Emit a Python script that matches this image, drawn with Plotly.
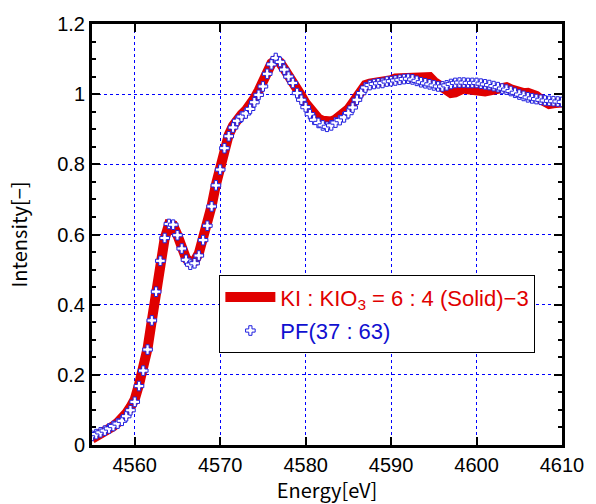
import plotly.graph_objects as go

energy = [4555.0, 4555.5, 4556.0, 4556.5, 4557.0, 4557.5, 4558.0, 4558.5, 4559.0, 4559.5,
          4560.0, 4560.5, 4561.0, 4561.5, 4562.0, 4562.5, 4563.0, 4563.5, 4564.0, 4564.5,
          4565.0, 4565.5, 4566.0, 4566.5, 4567.0, 4567.5, 4568.0, 4568.5, 4569.0, 4569.5,
          4570.0, 4570.5, 4571.0, 4571.5, 4572.0, 4572.5, 4573.0, 4573.5, 4574.0, 4574.5,
          4575.0, 4575.5, 4576.0, 4576.5, 4577.0, 4577.5, 4578.0, 4578.5, 4579.0, 4579.5,
          4580.0, 4580.5, 4581.0, 4581.5, 4582.0, 4582.5, 4583.0, 4583.5, 4584.0, 4584.5,
          4585.0, 4585.5, 4586.0, 4586.5, 4587.0, 4587.5, 4588.0, 4588.5, 4589.0, 4589.5,
          4590.0, 4590.5, 4591.0, 4591.5, 4592.0, 4592.5, 4593.0, 4593.5, 4594.0, 4594.5,
          4595.0, 4595.5, 4596.0, 4596.5, 4597.0, 4597.5, 4598.0, 4598.5, 4599.0, 4599.5,
          4600.0, 4600.5, 4601.0, 4601.5, 4602.0, 4602.5, 4603.0, 4603.5, 4604.0, 4604.5,
          4605.0, 4605.5, 4606.0, 4606.5, 4607.0, 4607.5, 4608.0, 4608.5, 4609.0, 4609.5,
          4610.0]

solid_ki_kio3 = [0.018, 0.024, 0.030, 0.037, 0.045, 0.054, 0.064, 0.075, 0.090, 0.108,
                 0.130, 0.172, 0.215, 0.275, 0.355, 0.435, 0.522, 0.588, 0.628, 0.626,
                 0.598, 0.562, 0.532, 0.520, 0.524, 0.546, 0.588, 0.630, 0.682, 0.742,
                 0.788, 0.850, 0.884, 0.910, 0.930, 0.942, 0.954, 0.968, 0.988, 1.010,
                 1.034, 1.066, 1.088, 1.097, 1.090, 1.072, 1.055, 1.040, 1.013, 0.995,
                 0.974, 0.955, 0.940, 0.930, 0.924, 0.921, 0.922, 0.928, 0.936, 0.944,
                 0.957, 0.974, 0.996, 1.014, 1.026, 1.030, 1.031, 1.033, 1.035, 1.038,
                 1.040, 1.045, 1.046, 1.047, 1.046, 1.048, 1.050, 1.053, 1.052, 1.049,
                 1.036, 1.026, 1.017, 1.008, 1.003, 1.005, 1.013, 1.016, 1.014, 1.011,
                 1.012, 1.010, 1.008, 1.010, 1.013, 1.018, 1.021, 1.020, 1.014, 1.008,
                 1.004, 1.003, 1.004, 1.002, 0.995, 0.985, 0.976, 0.972, 0.974, 0.975,
                 0.976]

pf_37_63 = [0.026, 0.031, 0.036, 0.041, 0.047, 0.054, 0.061, 0.069, 0.082, 0.099,
            0.123, 0.168, 0.212, 0.272, 0.355, 0.437, 0.525, 0.590, 0.630, 0.628,
            0.598, 0.560, 0.528, 0.514, 0.518, 0.540, 0.584, 0.625, 0.680, 0.740,
            0.785, 0.846, 0.880, 0.905, 0.924, 0.936, 0.945, 0.958, 0.977, 0.998,
            1.022, 1.058, 1.085, 1.103, 1.092, 1.070, 1.050, 1.032, 1.003, 0.984,
            0.963, 0.943, 0.927, 0.918, 0.911, 0.907, 0.911, 0.919, 0.926, 0.934,
            0.946, 0.962, 0.984, 1.003, 1.019, 1.026, 1.029, 1.031, 1.032, 1.036,
            1.037, 1.039, 1.041, 1.043, 1.044, 1.042, 1.038, 1.034, 1.031, 1.028,
            1.025, 1.022, 1.022, 1.025, 1.029, 1.032, 1.033, 1.033, 1.032, 1.032,
            1.032, 1.030, 1.028, 1.026, 1.023, 1.020, 1.016, 1.013, 1.009, 1.004,
            0.999, 0.995, 0.991, 0.988, 0.986, 0.984, 0.982, 0.981, 0.980, 0.979,
            0.978]

x_ticks = [4560, 4570, 4580, 4590, 4600, 4610]
y_ticks = [0, 0.2, 0.4, 0.6, 0.8, 1, 1.2]

fig = go.Figure()
fig.add_trace(go.Scatter(
    x=energy, y=solid_ki_kio3, mode="lines",
    line=dict(color="#e00000", width=10),
    legendgroup="a",
    name="<span style='color:#e00000'>KI : KIO<sub>3</sub> = 6 : 4 (Solid)−3</span>",
))
fig.add_trace(go.Scatter(
    x=energy, y=pf_37_63, mode="markers",
    marker=dict(symbol="cross", size=8, color="white",
                line=dict(color="#2020e0", width=1)),
    legendgroup="b",
    name="<span style='color:#1010d0'>PF(37 : 63)</span>",
))

axis_common = dict(
    showline=True, linecolor="black", linewidth=3, mirror="ticks",
    ticks="inside", ticklen=8, tickwidth=2, tickcolor="black",
    showgrid=True, gridcolor="#0000ff", gridwidth=1, griddash="dot",
    zeroline=False,
    tickfont=dict(family="Liberation Sans, Arial", size=20, color="black"),
)

fig.update_xaxes(
    range=[4555, 4610], tickvals=x_ticks,
    title=dict(text="Energy[eV]", font=dict(family="Noto Sans CJK JP", size=20, color="black"), standoff=2),
    **axis_common,
)
fig.update_yaxes(
    range=[0, 1.2], tickvals=y_ticks,
    minor=dict(dtick=0.05, ticks="inside", ticklen=4, tickwidth=2, tickcolor="black", showgrid=False),
    title=dict(text="Intensity[−]", font=dict(family="Noto Sans CJK JP", size=20, color="black"), standoff=25),
    **axis_common,
)

fig.update_layout(
    width=596, height=504,
    margin=dict(l=92, r=24, t=24, b=57.5),
    paper_bgcolor="white", plot_bgcolor="white",
    showlegend=True,
    legend=dict(
        x=0.271, y=0.4035, xanchor="left", yanchor="top",
        bgcolor="white", bordercolor="black", borderwidth=1,
        font=dict(family="Liberation Sans, Arial", size=22),
        tracegroupgap=2, itemwidth=50,
    ),
)

fig.write_html("out.html")
